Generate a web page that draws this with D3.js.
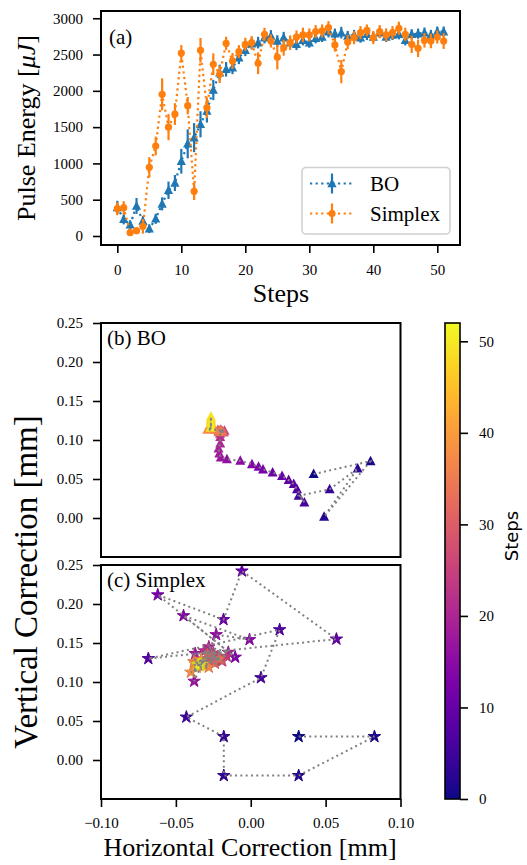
<!DOCTYPE html>
<html><head><meta charset="utf-8">
<script src="https://cdn.jsdelivr.net/npm/d3@7"></script>
<style>body{margin:0;background:#fff}svg{display:block}</style>
</head><body>
<script>
// ---------- data ----------
const steps = [0,1,2,3,4,5,6,7,8,9,10,11,12,13,14,15,16,17,18,19,20,21,22,23,24,25,26,27,28,29,30,31,32,33,34,35,36,37,38,39,40,41,42,43,44,45,46,47,48,49,50,51];
const boEnergy = [395,230,155,414,207,100,237,443,630,730,1030,1270,1355,1539,1723,2012,2251,2297,2320,2458,2559,2650,2664,2733,2756,2687,2733,2664,2641,2696,2664,2724,2742,2816,2788,2802,2756,2770,2733,2779,2742,2802,2742,2770,2779,2696,2779,2788,2802,2770,2816,2816];
const boErr = [90,70,60,110,70,60,70,90,120,110,170,200,200,180,160,140,110,100,90,90,80,80,80,80,80,80,80,80,80,70,70,70,70,80,70,80,70,70,70,80,70,70,70,70,70,70,70,70,70,70,70,70];
const sxEnergy = [376,390,46,73,133,946,1240,1952,1500,1680,2520,1795,615,2559,1768,2366,2228,2655,2412,2540,2641,2664,2380,2779,2687,2464,2595,2664,2742,2770,2770,2816,2825,2871,2632,2265,2673,2733,2802,2834,2733,2816,2770,2802,2862,2779,2641,2586,2696,2687,2742,2687];
const sxErr = [90,90,40,40,100,140,130,220,180,150,110,120,120,170,140,150,120,90,110,90,90,90,150,90,90,170,110,100,90,100,90,90,90,90,90,160,100,90,90,80,90,90,90,90,90,90,120,120,100,100,90,110];

const boX = [0.042,0.080,0.049,0.0714,0.0527,0.032,0.0358,0.0309,0.0287,0.0253,0.0209,0.0146,0.0082,0.0052,0.0008,-0.0070,-0.0159,-0.0200,-0.0210,-0.0215,-0.0204,-0.0204,-0.0205,-0.0190,-0.0215,-0.0175,-0.0200,-0.0180,-0.0210,-0.0190,-0.0220,-0.0195,-0.0185,-0.0205,-0.0215,-0.0200,-0.0240,-0.0290,-0.0280,-0.0270,-0.0275,-0.0265,-0.0268,-0.0266,-0.0266,-0.0268,-0.0266,-0.0266,-0.0266,-0.0266,-0.0266,-0.0266];
const boY = [0.0563,0.0729,0.0017,0.0636,0.0367,0.0285,0.0200,0.0367,0.0435,0.0486,0.0540,0.0584,0.0623,0.0656,0.0690,0.0733,0.0754,0.0776,0.0827,0.0890,0.0955,0.1040,0.1080,0.1100,0.1110,0.1120,0.1130,0.1100,0.1120,0.1110,0.1130,0.1120,0.1110,0.1120,0.1100,0.1110,0.1130,0.1130,0.1140,0.1150,0.1160,0.1180,0.1160,0.1200,0.1220,0.1210,0.1240,0.1260,0.1280,0.1300,0.1220,0.1160];

const sxX = [0.032,0.0826,0.032,-0.018,-0.018,-0.043,0.0068,0.0193,-0.0684,0.0572,-0.0059,-0.0182,-0.0621,-0.0104,-0.0449,-0.0008,-0.0231,-0.0378,-0.0371,-0.0150,-0.028,-0.020,-0.031,-0.016,-0.025,-0.027,-0.022,-0.030,-0.019,-0.026,-0.033,-0.024,-0.029,-0.035,-0.021,-0.031,-0.038,-0.028,-0.040,-0.036,-0.033,-0.037,-0.034,-0.035,-0.033,-0.034,-0.035,-0.034,-0.033,-0.034,-0.035,-0.034];
const sxY = [0.030,0.030,-0.020,-0.020,0.030,0.055,0.1055,0.167,0.130,0.155,0.2423,0.180,0.2117,0.1318,0.185,0.1543,0.1607,0.101,0.1365,0.138,0.145,0.128,0.140,0.133,0.137,0.126,0.132,0.130,0.127,0.134,0.128,0.124,0.135,0.125,0.130,0.122,0.126,0.119,0.1126,0.119,0.128,0.123,0.121,0.122,0.123,0.121,0.122,0.123,0.122,0.121,0.122,0.122];

const energyTicks = [0,500,1000,1500,2000,2500,3000];
const stepTicks = [0,10,20,30,40,50];
const corrTicks = [-0.10,-0.05,0.00,0.05,0.10];
const vertTicks = [0.00,0.05,0.10,0.15,0.20,0.25];
const cbTicks = [0,10,20,30,40,50];

// ---------- drawing ----------
const W = 527, H = 865;
const serif = "'Liberation Serif','Times New Roman',serif";
const blue = "#1f77b4", orange = "#ff7f0e", grey = "#808080";
const svg = d3.select("body").append("svg").attr("width", W).attr("height", H)
  .style("font-family", serif);

const fmtMinus = d => (d < 0 ? "\u2212" : "") + Math.abs(d).toFixed(2);

function styleAxis(g, fs) {
  g.select(".domain").remove();
  g.selectAll(".tick line").attr("stroke", "#000").attr("stroke-width", 1.6);
  g.selectAll(".tick text").attr("fill", "#000").style("font-family", serif).style("font-size", fs + "px");
}

// ===== Panel (a) =====
const A = {l: 101, r: 460, t: 11, b: 245};
const xA = d3.scaleLinear().domain([-2.55, 53.55]).range([A.l, A.r]);
const yA = d3.scaleLinear().domain([-124, 3100]).range([A.b, A.t]);

svg.append("g").attr("transform", `translate(0,${A.b})`)
  .call(d3.axisBottom(xA).tickValues(stepTicks).tickSize(8).tickPadding(11).tickFormat(d3.format("d")))
  .call(g => styleAxis(g, 15));
svg.append("g").attr("transform", `translate(${A.l},0)`)
  .call(d3.axisLeft(yA).tickValues(energyTicks).tickSize(8).tickPadding(10).tickFormat(d3.format("d")))
  .call(g => styleAxis(g, 15));

const gA = svg.append("g");
function drawSeries(vals, errs, color, marker) {
  const line = d3.line().x((d, i) => xA(steps[i])).y(d => yA(d));
  gA.append("path").datum(vals).attr("d", line).attr("fill", "none")
    .attr("stroke", color).attr("stroke-width", 2.2).attr("stroke-dasharray", "2.2,3.4");
  gA.selectAll(null).data(vals).enter().append("line")
    .attr("x1", (d, i) => xA(steps[i])).attr("x2", (d, i) => xA(steps[i]))
    .attr("y1", (d, i) => yA(d - errs[i])).attr("y2", (d, i) => yA(d + errs[i]))
    .attr("stroke", color).attr("stroke-width", 2.2);
  if (marker === "tri") {
    gA.selectAll(null).data(vals).enter().append("path")
      .attr("d", "M0,-5L4.6,3.8L-4.6,3.8Z")
      .attr("transform", (d, i) => `translate(${xA(steps[i])},${yA(d)})`)
      .attr("fill", color);
  } else {
    gA.selectAll(null).data(vals).enter().append("circle")
      .attr("cx", (d, i) => xA(steps[i])).attr("cy", d => yA(d)).attr("r", 3.6)
      .attr("fill", color);
  }
}
drawSeries(boEnergy, boErr, blue, "tri");
drawSeries(sxEnergy, sxErr, orange, "circ");

svg.append("rect").attr("x", A.l).attr("y", A.t).attr("width", A.r - A.l).attr("height", A.b - A.t)
  .attr("fill", "none").attr("stroke", "#000").attr("stroke-width", 2);

svg.append("text").attr("x", 109).attr("y", 44).attr("font-size", 21).text("(a)");

// legend
const lg = svg.append("g");
lg.append("rect").attr("x", 302).attr("y", 167.5).attr("width", 148).attr("height", 66.5).attr("rx", 4)
  .attr("fill", "rgba(255,255,255,0.85)").attr("stroke", "#d0d0d0").attr("stroke-width", 1.6);
[["BO", blue, "tri", 183.5], ["Simplex", orange, "circ", 213.5]].forEach(([lab, c, m, y]) => {
  lg.append("line").attr("x1", 310).attr("x2", 354).attr("y1", y).attr("y2", y)
    .attr("stroke", c).attr("stroke-width", 2.2).attr("stroke-dasharray", "2.2,3.4");
  lg.append("line").attr("x1", 332).attr("x2", 332).attr("y1", y - 10).attr("y2", y + 10)
    .attr("stroke", c).attr("stroke-width", 2.2);
  if (m === "tri") lg.append("path").attr("d", "M0,-5L4.6,3.8L-4.6,3.8Z").attr("transform", `translate(332,${y})`).attr("fill", c);
  else lg.append("circle").attr("cx", 332).attr("cy", y).attr("r", 3.6).attr("fill", c);
  lg.append("text").attr("x", 370).attr("y", y + 7).attr("font-size", 21).text(lab);
});

svg.append("text").attr("x", 281).attr("y", 302).attr("text-anchor", "middle").attr("font-size", 26).text("Steps");
svg.append("text").attr("transform", "translate(35,128) rotate(-90)").attr("text-anchor", "middle")
  .attr("font-size", 26)
  .call(t => { t.append("tspan").text("Pulse Energy ["); t.append("tspan").attr("font-style", "italic").text("\u03bcJ"); t.append("tspan").text("]"); });

// ===== Panels (b) and (c) =====
const color = d3.scaleSequential(d3.interpolatePlasma).domain([0, 52]);
const xC = d3.scaleLinear().domain([-0.1, 0.1]).range([101, 400.5]);

function scatterPanel(top, bottom, xs, ys, marker, label, showX) {
  const y = d3.scaleLinear().domain([-0.05, 0.25]).range([bottom, top]);
  svg.append("g").attr("transform", `translate(101,0)`)
    .call(d3.axisLeft(y).tickValues(vertTicks).tickSize(8).tickPadding(10).tickFormat(fmtMinus))
    .call(g => styleAxis(g, 15));
  if (showX) {
    svg.append("g").attr("transform", `translate(0,${bottom})`)
      .call(d3.axisBottom(xC).tickValues(corrTicks).tickSize(8).tickPadding(10).tickFormat(fmtMinus))
      .call(g => styleAxis(g, 15));
  }
  const g = svg.append("g");
  const sym = marker === "tri"
    ? "M0,-5.5L5,4L-5,4Z"
    : d3.symbol().type(d3.symbolStar).size(48)();
  g.selectAll(null).data(xs).enter().append("path")
    .attr("d", sym)
    .attr("transform", (d, i) => `translate(${xC(d)},${y(ys[i])})`)
    .attr("fill", (d, i) => color(steps[i]))
    .attr("stroke", (d, i) => marker === "tri" ? "none" : d3.color(color(steps[i])).darker(0.3))
    .attr("stroke-width", 1);
  const line = d3.line().x((d, i) => xC(d)).y((d, i) => y(ys[i]));
  g.append("path").datum(xs).attr("d", line).attr("fill", "none")
    .attr("stroke", grey).attr("stroke-width", 2).attr("stroke-dasharray", "2,3.3");
  svg.append("rect").attr("x", 101).attr("y", top).attr("width", 299.5).attr("height", bottom - top)
    .attr("fill", "none").attr("stroke", "#000").attr("stroke-width", 2);
  svg.append("text").attr("x", 107).attr("y", top + 22).attr("font-size", 21).text(label);
}
scatterPanel(323, 557, boX, boY, "tri", "(b) BO", false);
scatterPanel(565, 799, sxX, sxY, "star", "(c) Simplex", true);

svg.append("text").attr("x", 250).attr("y", 856).attr("text-anchor", "middle").attr("font-size", 26)
  .text("Horizontal Correction [mm]");
svg.append("text").attr("transform", "translate(37,582) rotate(-90)").attr("text-anchor", "middle")
  .attr("font-size", 33).text("Vertical Correction [mm]");

// ===== colorbar =====
const cb = {l: 445, r: 460, t: 323, b: 799};
const yCB = d3.scaleLinear().domain([0, 52]).range([cb.b, cb.t]);
const defs = svg.append("defs");
const grad = defs.append("linearGradient").attr("id", "cbgrad").attr("x1", 0).attr("y1", 1).attr("x2", 0).attr("y2", 0);
d3.range(0, 1.0001, 0.05).forEach(t => grad.append("stop").attr("offset", t).attr("stop-color", d3.interpolatePlasma(t)));
svg.append("rect").attr("x", cb.l).attr("y", cb.t).attr("width", cb.r - cb.l).attr("height", cb.b - cb.t)
  .attr("fill", "url(#cbgrad)").attr("stroke", "#000").attr("stroke-width", 1.6);
svg.append("g").attr("transform", `translate(${cb.r},0)`)
  .call(d3.axisRight(yCB).tickValues(cbTicks).tickSize(8).tickPadding(11))
  .call(g => styleAxis(g, 15));
svg.append("text").attr("transform", `translate(518,536) rotate(-90)`).attr("text-anchor", "middle")
  .style("font-family", "'DejaVu Sans',sans-serif").attr("font-size", 18).text("Steps");
</script>
</body></html>
